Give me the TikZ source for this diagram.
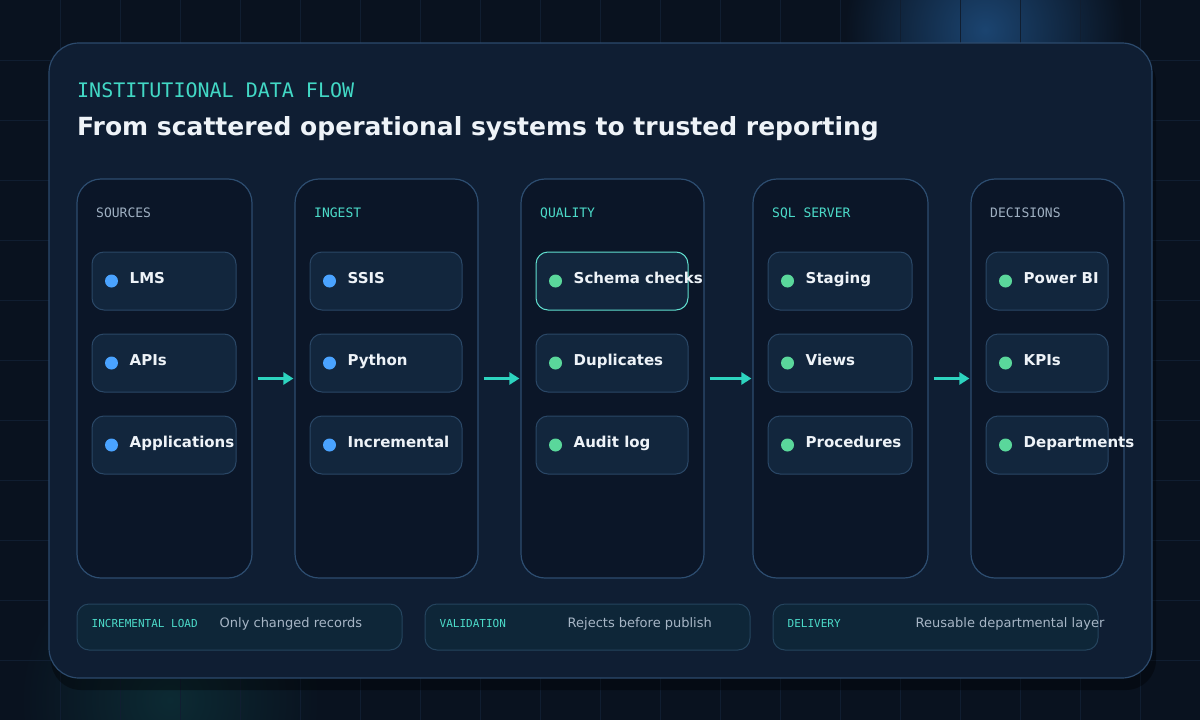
\documentclass[tikz,border=0pt]{standalone}
\usepackage{fontspec}
\setmainfont{DejaVu Sans}
\newfontfamily\monof{DejaVu Sans Mono}
\usetikzlibrary{arrows.meta}
\definecolor{bgc}{HTML}{09121F}
\definecolor{gridc}{HTML}{101E31}
\definecolor{glowblue}{HTML}{1B4470}
\definecolor{glowteal}{HTML}{0C2A33}
\definecolor{panelfill}{HTML}{0F1E33}
\definecolor{panelline}{HTML}{2C4A6C}
\definecolor{colfill}{HTML}{0B1628}
\definecolor{colline}{HTML}{2D4D70}
\definecolor{chipfill}{HTML}{12263D}
\definecolor{chipline}{HTML}{2A4766}
\definecolor{tealc}{HTML}{2DD4BF}
\definecolor{bluedot}{HTML}{4AA3FF}
\definecolor{greendot}{HTML}{5AD79B}
\definecolor{headc}{HTML}{EEF3F8}
\definecolor{grayc}{HTML}{9FB0C2}
\definecolor{noteFill}{HTML}{0E2638}
\definecolor{noteLine}{HTML}{25445E}
\definecolor{notetext}{HTML}{A7B6C6}
\tikzset{
  panel/.style={draw=panelline, fill=panelfill, line width=1.2pt, rounded corners=30pt, inner sep=0pt},
  colbox/.style={draw=colline, fill=colfill, line width=1.2pt, rounded corners=24pt, inner sep=0pt, minimum height=399pt},
  chipbox/.style={draw=chipline, fill=chipfill, line width=1pt, rounded corners=12pt, inner sep=0pt, minimum height=58pt},
  hichip/.style={chipbox, draw=tealc!75},
  dotn/.style={circle, inner sep=0pt, minimum size=13pt},
  chiptext/.style={anchor=base west, inner sep=0pt, text=headc, font=\fontsize{15}{18}\selectfont\bfseries},
  collabel/.style={anchor=base west, inner sep=0pt, font=\monof\fontsize{13}{16}\selectfont},
  notebox/.style={draw=noteLine, fill=noteFill, line width=1pt, rounded corners=12pt, inner sep=0pt, minimum width=325pt, minimum height=46pt},
  notelabel/.style={anchor=base west, inner sep=0pt, text=tealc!85, font=\monof\fontsize{11}{13}\selectfont},
  notetxt/.style={anchor=base west, inner sep=0pt, text=notetext, font=\fontsize{13}{16}\selectfont},
  flow/.style={draw=tealc, line width=2.6pt, -{Triangle[length=10pt,width=12pt]}, shorten <=5pt, shorten >=1pt},
}
\newcommand\chip[7]{% style, name, cx, cy, width, dotcolor, text
  \node[#1, minimum width=#5pt] (#2) at (#3,#4) {};
  \node[dotn, fill=#6] (#2-dot) at ([xshift=20pt]#2.west) {};
  \node[chiptext] (#2-txt) at ([xshift=38pt,yshift=-2pt]#2.west) {#7};
}
\newcommand\note[4]{% name, cx, label, text
  \node[notebox] (#1) at (#2,627) {};
  \node[notelabel] (#1-lab) at ([xshift=15pt,yshift=0pt]#1.west) {#3};
  \node[notetxt] (#1-txt) at ([xshift=143pt,yshift=0pt]#1.west) {#4};
}
\begin{document}
\begin{tikzpicture}[x=1pt,y=-1pt]
\useasboundingbox (0,0) rectangle (1200,720);
\fill[bgc] (0,0) rectangle (1200,720);
\shade[inner color=glowblue, outer color=bgc] (985,30) circle (140pt);
\shade[inner color=glowteal, outer color=bgc] (170,700) circle (150pt);
\foreach \x in {60,120,...,1140} \draw[gridc, line width=0.8pt] (\x,0) -- (\x,720);
\foreach \y in {60,120,...,660} \draw[gridc, line width=0.8pt] (0,\y) -- (1200,\y);
% shadow + panel
\fill[black, opacity=0.35, rounded corners=30pt] (51,52) rectangle (1156,690);
\node[panel, minimum width=1103pt, minimum height=635pt] (panel) at (600.5,360.5) {};
% titles
\node[anchor=base west, inner sep=0pt, text=tealc!90, font=\monof\fontsize{20}{24}\selectfont] (kicker) at (77,97) {INSTITUTIONAL DATA FLOW};
\node[anchor=base west, inner sep=0pt, text=headc, font=\fontsize{25}{30}\selectfont\bfseries] (title) at (77,135) {From scattered operational systems to trusted reporting};
% columns
\node[colbox, minimum width=175pt] (c1) at (164.5,378.5) {};
\node[colbox, minimum width=183pt] (c2) at (386.5,378.5) {};
\node[colbox, minimum width=183pt] (c3) at (612.5,378.5) {};
\node[colbox, minimum width=175pt] (c4) at (840.5,378.5) {};
\node[colbox, minimum width=153pt] (c5) at (1047.5,378.5) {};
\node[collabel, text=grayc] (l1) at (96,217) {SOURCES};
\node[collabel, text=tealc!85] (l2) at (314,217) {INGEST};
\node[collabel, text=tealc!85] (l3) at (540,217) {QUALITY};
\node[collabel, text=tealc!85] (l4) at (772,217) {SQL SERVER};
\node[collabel, text=grayc] (l5) at (990,217) {DECISIONS};
% chips
\chip{chipbox}{s1}{164}{281}{144}{bluedot}{LMS}
\chip{chipbox}{s2}{164}{363}{144}{bluedot}{APIs}
\chip{chipbox}{s3}{164}{445}{144}{bluedot}{Applications}
\chip{chipbox}{i1}{386}{281}{152}{bluedot}{SSIS}
\chip{chipbox}{i2}{386}{363}{152}{bluedot}{Python}
\chip{chipbox}{i3}{386}{445}{152}{bluedot}{Incremental}
\chip{hichip}{q1}{612}{281}{152}{greendot}{Schema checks}
\chip{chipbox}{q2}{612}{363}{152}{greendot}{Duplicates}
\chip{chipbox}{q3}{612}{445}{152}{greendot}{Audit log}
\chip{chipbox}{d1}{840}{281}{144}{greendot}{Staging}
\chip{chipbox}{d2}{840}{363}{144}{greendot}{Views}
\chip{chipbox}{d3}{840}{445}{144}{greendot}{Procedures}
\chip{chipbox}{o1}{1047}{281}{122}{greendot}{Power BI}
\chip{chipbox}{o2}{1047}{363}{122}{greendot}{KPIs}
\chip{chipbox}{o3}{1047}{445}{122}{greendot}{Departments}
% arrows
\draw[flow] (c1.east) -- (c2.west);
\draw[flow] (c2.east) -- (c3.west);
\draw[flow] (c3.east) -- (c4.west);
\draw[flow] (c4.east) -- (c5.west);
% notes
\note{n1}{239.5}{INCREMENTAL LOAD}{Only changed records}
\note{n2}{587.5}{VALIDATION}{Rejects before publish}
\note{n3}{935.5}{DELIVERY}{Reusable departmental layer}
\end{tikzpicture}
\end{document}
